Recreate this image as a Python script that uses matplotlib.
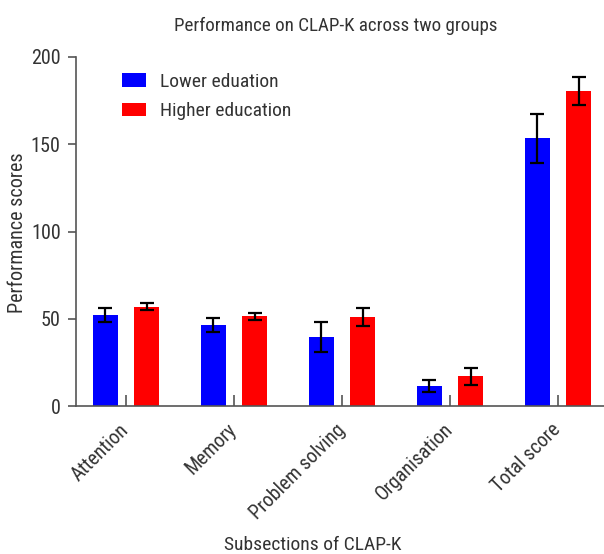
import matplotlib
matplotlib.use("Agg")
import matplotlib.pyplot as plt
import numpy as np

plt.rcParams['font.family'] = ['Roboto Condensed', 'Liberation Sans Narrow', 'Roboto', 'DejaVu Sans']

categories = ['Attention', 'Memory', 'Problem solving', 'Organisation', 'Total score']
lower_mean = [52, 46.5, 39.5, 11.5, 153.5]
lower_err = [4, 4, 8.8, 3.6, 14]
higher_mean = [57, 51.5, 51, 17, 180.5]
higher_err = [2.2, 2, 5.2, 4.8, 8.2]

txt = '#333333'
fig = plt.figure(figsize=(6.04, 5.54), dpi=100)
ax = fig.add_axes([76/604, 1 - 406/554, 528/604, 349/554])

x = np.arange(len(categories))
w = 0.24
off = 0.19
ekw = dict(ecolor='black', elinewidth=1.6, capsize=5.3, capthick=1.6)
ax.bar(x - off, lower_mean, w, yerr=lower_err, color='#0000ff', label='Lower eduation', error_kw=ekw)
ax.bar(x + off, higher_mean, w, yerr=higher_err, color='#ff0000', label='Higher education', error_kw=ekw)

ax.set_xlim(-0.463, 4.426)
ax.set_ylim(0, 200)
ax.set_yticks([0, 50, 100, 150, 200])
ax.set_xticks(x)
ax.set_xticklabels(categories, rotation=45, ha='right', va='center', rotation_mode='anchor')
ax.tick_params(axis='x', direction='in', length=8, width=1.2, color='#555555', pad=15,
               labelsize=14.3, labelcolor=txt)
ax.tick_params(axis='y', direction='out', length=6, width=1.2, color='#555555', pad=5,
               labelsize=14.5, labelcolor=txt)

for s in ['top', 'right']:
    ax.spines[s].set_visible(False)
for s in ['left', 'bottom']:
    ax.spines[s].set_color('#555555')
    ax.spines[s].set_linewidth(1.2)

ax.set_ylabel('Performance scores', fontsize=14.5, color=txt)
ax.yaxis.set_label_coords(-0.093, 0.497)
ax.set_xlabel('Subsections of CLAP-K', fontsize=14, color=txt)
ax.xaxis.set_label_coords(0.449, -0.398)
ax.xaxis.label.set_verticalalignment('center')
fig.text(336/604, 1 - 26/554, 'Performance on CLAP-K across two groups', ha='center', va='center',
         fontsize=13.7, color=txt)

ax.legend(loc='upper left', bbox_to_anchor=(0.087, 0.955), frameon=False, fontsize=14,
          borderpad=0, borderaxespad=0, handlelength=1.24, handleheight=0.67,
          handletextpad=0.72, labelcolor=txt, labelspacing=0.6)

fig.savefig('out.png', dpi=100)
